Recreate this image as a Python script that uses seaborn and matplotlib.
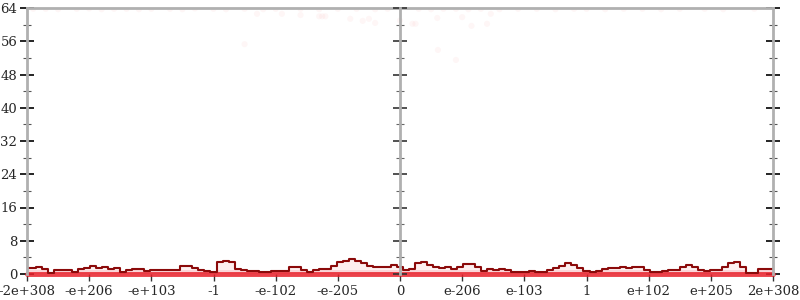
import numpy as np
import pandas as pd
import matplotlib
matplotlib.use("Agg")
import matplotlib.pyplot as plt
import seaborn as sns

tick_labels = ["-2e+308", "-e+206", "-e+103", "-1", "-e-102", "-e-205", "0",
               "e-206", "e-103", "1", "e+102", "e+205", "2e+308"]

density = [1.4, 1.5, 1.8, 1.2, 0.3, 1.0, 1.0, 1.0, 0.6, 1.2, 1.5, 1.9, 1.4, 1.6, 1.2, 1.5,
           0.4, 0.9, 1.2, 1.2, 0.8, 1.0, 0.9, 1.0, 0.9, 1.0, 1.9, 2.0, 1.4, 1.0, 0.8, 0.6,
           3.0, 3.2, 2.8, 1.2, 0.9, 0.7, 0.8, 0.6, 0.6, 0.8, 0.7, 0.8, 1.8, 1.6, 1.0, 0.4,
           1.0, 1.1, 1.3, 2.0, 2.8, 3.2, 3.6, 3.2, 2.6, 2.0, 1.8, 1.6, 1.7, 2.2, 1.8, 1.0,
           1.2, 2.6, 2.8, 2.2, 1.6, 1.4, 1.6, 1.2, 1.7, 2.4, 2.5, 1.6, 0.8, 1.2, 1.0, 1.2,
           1.0, 0.6, 0.5, 0.6, 0.8, 0.6, 0.6, 1.0, 1.4, 2.0, 2.6, 2.2, 1.4, 0.8, 0.6, 0.8,
           1.2, 1.4, 1.5, 1.6, 1.5, 1.8, 1.6, 1.0, 0.6, 0.6, 0.8, 1.0, 1.0, 1.8, 2.2, 1.8,
           1.0, 0.8, 1.0, 1.0, 1.6, 2.6, 2.9, 1.6, 0.3, 0.3, 1.2, 1.2, 1.2]

# faint outlier points near the top (x in tick units, y in counts)
dots_x = [-5.9, -5.7, -5.5, -5.2, -5.0, -4.8, -4.6, -4.4, -4.2, -4.0, -3.7, -3.5, -3.3,
          -3.0, -2.8, -2.5, -2.2, -2.0, -1.6, -1.3, -1.0, -0.7, -0.4, -0.2,
          0.3, 0.5, 0.7, 0.9, 1.1, 1.3, 1.6, 1.9, 2.2, 2.5, 2.8, 3.0, 3.3, 3.6,
          3.9, 4.2, 4.5, 4.9, 5.2, 5.7,
          -2.3, -1.9, -1.6, -1.3, -1.25, -1.2, -0.8, -0.6, -0.5, -0.4, -2.5, 0.0,
          0.2, 0.25, 0.6, 1.0, 1.15, 1.4, 1.46, 0.61, 0.9]
dots_y = [63.8, 63.8, 63.7, 63.8, 63.9, 63.7, 63.8, 63.8, 63.7, 63.8, 63.8, 63.7, 63.9,
          63.8, 63.7, 63.8, 63.7, 63.8, 63.8, 63.7, 63.8, 63.8, 63.7, 63.8,
          63.8, 63.7, 63.8, 63.8, 63.7, 63.8, 63.7, 63.8, 63.8, 63.7, 63.8, 63.8, 63.7, 63.8,
          63.8, 63.7, 63.8, 63.8, 63.7, 63.8,
          62.6, 62.6, 62.3, 62.0, 62.0, 62.0, 61.4, 60.9, 61.4, 60.4, 55.3, 61.0,
          60.2, 60.2, 61.6, 61.8, 59.7, 60.2, 62.6, 53.9, 51.5]

x_pos = np.linspace(-6, 6, len(density))
df = pd.DataFrame({"x": x_pos, "y": density})
dots = pd.DataFrame({"x": dots_x, "y": dots_y})

sns.set_style("white")
plt.rcParams["font.family"] = ["DejaVu Serif"]

fig = plt.figure(figsize=(8, 3), dpi=100)
rect = [27 / 800, 26 / 300, 746 / 800, 266 / 300]
ax = fig.add_axes(rect)

ax.fill_between(df["x"], 0, df["y"], color="#f08080", alpha=0.12, lw=0, step="mid")
ax.fill_between(df["x"], 0, np.minimum(df["y"], 1.0), color="#f06070", alpha=0.18, lw=0,
                step="mid")
base = sns.lineplot(data=df, x="x", y=[0] * len(df), ax=ax, color="#e8202a", lw=3.5,
                    alpha=0.85)
base.lines[-1].set_clip_on(False)
sns.lineplot(data=df, x="x", y="y", ax=ax, color="#8b0a0a", lw=1.5, drawstyle="steps-mid")
sns.scatterplot(data=dots, x="x", y="y", ax=ax, color="#e41a1c", alpha=0.035, s=20,
                edgecolor="none", clip_on=True)

ax.set_xlim(-6, 6)
ax.set_ylim(0, 64)
ax.set_xlabel("")
ax.set_ylabel("")
ax.set_xticks(np.arange(-6, 7))
ax.set_xticklabels(tick_labels)
ax.set_yticks(np.arange(0, 65, 8))
ax.set_yticks(np.arange(4, 64, 8), minor=True)

for s in ["left", "right", "top", "bottom"]:
    ax.spines[s].set_color("#b0b0b0")
    ax.spines[s].set_linewidth(2)
ax.spines["bottom"].set_visible(False)

ax.tick_params(axis="y", which="major", direction="inout", length=10, width=1.2,
               color="black", labelsize=9.5, left=True, right=True, pad=2)
ax.tick_params(axis="y", which="minor", direction="inout", length=6, width=0.8,
               color="#555555", left=True, right=True)
ax.tick_params(axis="x", which="major", direction="out", length=5, width=1,
               color="#333333", labelsize=9.5, bottom=True, pad=3)

# center axis
ax2 = fig.add_axes(rect, sharey=ax)
ax2.set_xlim(-6, 6)
ax2.patch.set_alpha(0)
for s in ["right", "top", "bottom"]:
    ax2.spines[s].set_visible(False)
ax2.spines["left"].set_position(("data", 0))
ax2.spines["left"].set_color("#b0b0b0")
ax2.spines["left"].set_linewidth(2)
ax2.set_xticks([])
ax2.tick_params(axis="y", which="major", direction="inout", length=10, width=1.2,
                color="#333333", labelleft=False, left=True)
ax2.tick_params(axis="y", which="minor", direction="inout", length=6, width=0.8,
                color="#666666", left=True)

fig.savefig("out.png", dpi=100)
